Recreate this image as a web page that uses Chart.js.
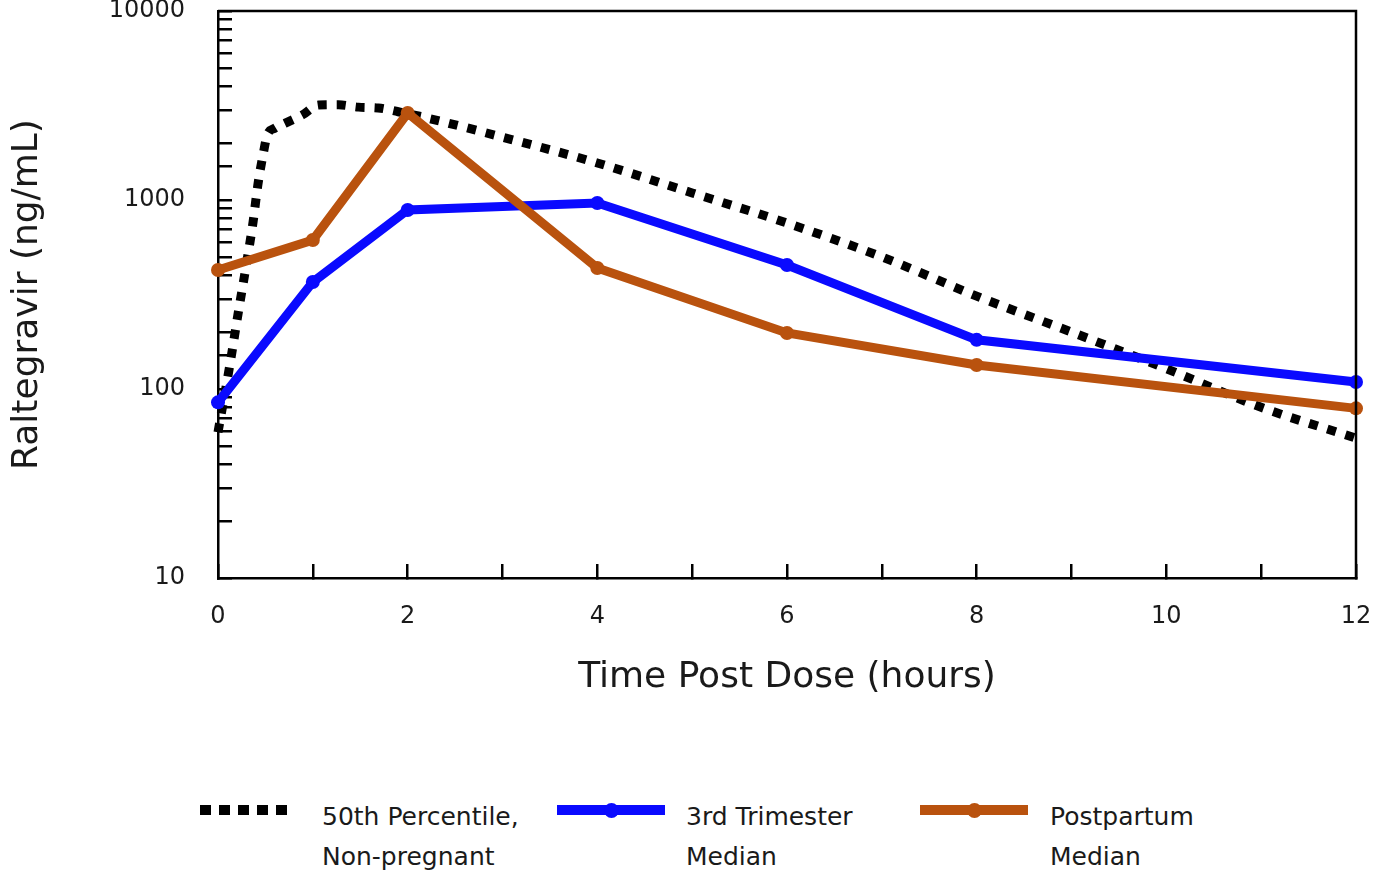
<!DOCTYPE html>
<html>
<head>
<meta charset="utf-8">
<title>Raltegravir concentrations</title>
<script src="https://cdn.jsdelivr.net/npm/chart.js@4.4.1/dist/chart.umd.min.js"></script>
<style>
  html, body { margin: 0; padding: 0; background: #fff; }
  #wrap { position: relative; width: 1376px; height: 873px; overflow: hidden; font-family: 'DejaVu Sans', sans-serif; color: #1a1a1a; }
  #myChart { position: absolute; left: 0; top: 0; }
  .key { position: absolute; }
  .dots { height: 10px; background: repeating-linear-gradient(90deg, #000 0 11px, transparent 11px 19px); }
  .bar { height: 10px; }
  .bar i { position: absolute; left: 50%; top: 50%; width: 15px; height: 15px; margin: -7.5px 0 0 -7.5px; border-radius: 50%; background: inherit; }
  .txt { position: absolute; font-size: 25px; line-height: 40px; white-space: nowrap; }
</style>
</head>
<body>
<div id="wrap">
  <canvas id="myChart" width="1376" height="720"></canvas>

  <div class="key dots" style="left:200px; top:805px; width:92px;"></div>
  <div class="txt" style="left:322px; top:797px;">50th Percentile,<br>Non-pregnant</div>

  <div class="key bar" style="left:557px; top:805px; width:108px; background:#0a0aff;"><i></i></div>
  <div class="txt" style="left:686px; top:797px;">3rd Trimester<br>Median</div>

  <div class="key bar" style="left:920px; top:805px; width:108px; background:#b9520e;"><i></i></div>
  <div class="txt" style="left:1050px; top:797px;">Postpartum<br>Median</div>
</div>

<script>
// sampling times (hours) for the two measured groups
var hours = [0, 1, 2, 4, 6, 8, 12];
var trimester3 = [85, 368, 886, 964, 453, 182, 109];
var postpartum = [426, 614, 2886, 437, 198, 134, 79];

// 50th percentile curve, non-pregnant
var refHours = [0, 0.13, 0.21, 0.31, 0.37, 0.42, 0.48, 0.52, 0.6, 0.71, 0.89, 1.06, 1.27, 1.48, 1.69, 1.9, 2.2, 3, 4, 5, 6, 7, 8, 9, 10, 11, 12];
var refMedian = [59, 139, 247, 493, 766, 1200, 1790, 2210, 2400, 2550, 2820, 3180, 3190, 3100, 3070, 2930, 2720, 2150, 1570, 1090, 755, 500, 310, 200, 128, 80, 55];

var xTickLabels = [0, 2, 4, 6, 8, 10, 12];
var yTickLabels = [10, 100, 1000, 10000];

(function(w, d) {
  var fn = function() {
    return fn;
  };

  fn.points = function(xs, ys) {
    return xs.map(function(x, i) { return { x: x, y: ys[i] }; });
  };

  // box around the plot area (top + right edges)
  fn.frame = {
    id: 'frame',
    afterDatasetsDraw: function(chart) {
      var a = chart.chartArea, ctx = chart.ctx;
      ctx.save();
      ctx.strokeStyle = '#000';
      ctx.lineWidth = 2.5;
      ctx.beginPath();
      ctx.moveTo(a.left, a.top);
      ctx.lineTo(a.right, a.top);
      ctx.lineTo(a.right, a.bottom);
      ctx.stroke();
      ctx.restore();
    }
  };

  fn.init = function() {
    Chart.defaults.font.family = "'DejaVu Sans', sans-serif";
    Chart.defaults.color = '#1a1a1a';

    var data = {
      datasets: [{
        label: '50th Percentile, Non-pregnant',
        data: fn.points(refHours, refMedian),
        borderColor: '#000',
        borderWidth: 9,
        borderDash: [9, 10],
        pointRadius: 0,
        cubicInterpolationMode: 'monotone',
        order: 3
      }, {
        label: '3rd Trimester Median',
        data: fn.points(hours, trimester3),
        borderColor: '#0a0aff',
        backgroundColor: '#0a0aff',
        borderWidth: 9,
        pointRadius: 7,
        pointBorderWidth: 0,
        order: 2
      }, {
        label: 'Postpartum Median',
        data: fn.points(hours, postpartum),
        borderColor: '#b9520e',
        backgroundColor: '#b9520e',
        borderWidth: 9,
        pointRadius: 7,
        pointBorderWidth: 0,
        order: 1
      }]
    };

    var option = {
      responsive: false,
      animation: false,
      clip: false,
      layout: { padding: { top: 11, right: 20, left: 0, bottom: 0 } },
      plugins: {
        legend: { display: false },
        tooltip: { enabled: false }
      },
      scales: {
        x: {
          type: 'linear',
          min: 0,
          max: 12,
          z: 1,
          afterFit: function(s) {
            s.height = 142;
            s.paddingLeft = 0;
            s.paddingRight = 0;
          },
          border: { display: true, color: '#000', width: 2.5 },
          grid: { drawOnChartArea: false, drawTicks: true, tickLength: -14, color: '#000', lineWidth: 2.5 },
          ticks: {
            stepSize: 1,
            autoSkip: false,
            maxRotation: 0,
            padding: 42,
            font: { size: 24, lineHeight: 0.9 },
            callback: function(v) { return xTickLabels.indexOf(v) >= 0 ? String(v) : ''; }
          },
          title: {
            display: true,
            text: 'Time Post Dose (hours)',
            font: { size: 36 },
            padding: { top: 0, bottom: 21 }
          }
        },
        y: {
          type: 'logarithmic',
          min: 10,
          max: 10000,
          z: 1,
          afterFit: function(s) {
            s.width = 218;
            s.paddingTop = 0;
            s.paddingBottom = 0;
          },
          border: { display: true, color: '#000', width: 2.5 },
          grid: { drawOnChartArea: false, drawTicks: true, tickLength: -14, color: '#000', lineWidth: 2.5 },
          ticks: {
            autoSkip: false,
            padding: 47,
            font: { size: 24, lineHeight: 0.9 },
            callback: function(v) { return yTickLabels.indexOf(v) >= 0 ? String(v) : ''; }
          },
          title: {
            display: true,
            text: 'Raltegravir (ng/mL)',
            font: { size: 36 },
            padding: { top: 6, bottom: 0 }
          }
        }
      }
    };

    var ctx = d.getElementById('myChart').getContext('2d');
    var myChart = new Chart(ctx, {
      type: 'line',
      data: data,
      options: option,
      plugins: [fn.frame]
    });
  };

  w.Raltegravir = fn;
  fn.init();
})(window, document);
</script>
</body>
</html>
